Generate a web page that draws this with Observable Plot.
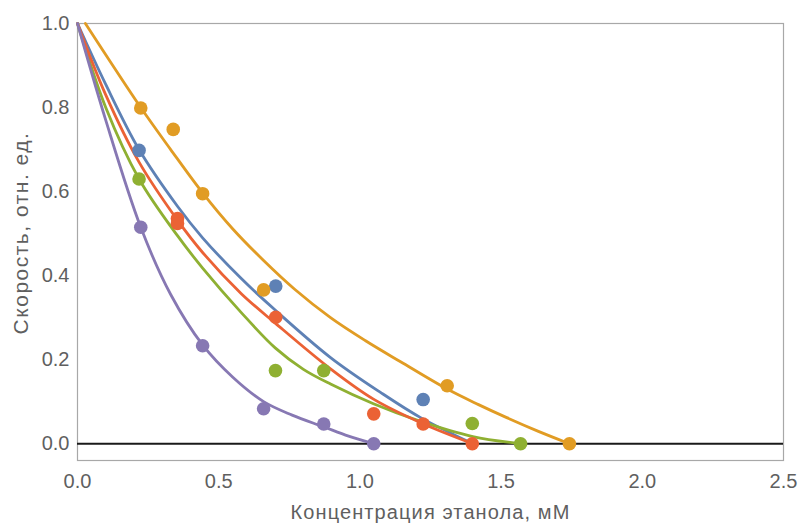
<!DOCTYPE html>
<html>
<head>
<meta charset="utf-8">
<script src="https://cdn.jsdelivr.net/npm/d3@7"></script>
<script src="https://cdn.jsdelivr.net/npm/@observablehq/plot@0.6"></script>
<style>
  html, body { margin: 0; padding: 0; background: #fff; }
</style>
</head>
<body>
<div id="chart"></div>
<script>
// ---- Data ----
const xLabel = "Концентрация этанола, мМ";
const yLabel = "Скорость, отн. ед.";
const xTicks = [0, 0.5, 1.0, 1.5, 2.0, 2.5];
const yTicks = [0, 0.2, 0.4, 0.6, 0.8, 1.0];

const seriesNames = ["s1", "s2", "s3", "s4", "s5"];
const seriesColors = ["#5E81B5", "#E19C24", "#8FB032", "#EB6235", "#8778B3"];

// measured points
const blueX = [0.218, 0.702, 1.224];
const blueY = [0.698, 0.375, 0.105];
const orangeX = [0.224, 0.339, 0.443, 0.659, 1.309, 1.742];
const orangeY = [0.799, 0.748, 0.595, 0.366, 0.138, 0.0];
const greenX = [0.218, 0.701, 0.872, 1.398, 1.569];
const greenY = [0.630, 0.174, 0.174, 0.048, 0.0];
const redX = [0.354, 0.354, 0.702, 1.049, 1.224, 1.398];
const redY = [0.536, 0.524, 0.301, 0.071, 0.047, 0.0];
const purpleX = [0.224, 0.443, 0.659, 0.872, 1.049];
const purpleY = [0.515, 0.233, 0.083, 0.047, 0.0];

// fitted curves
const blueCurveX = [0, 0.1, 0.218, 0.354, 0.443, 0.58, 0.70, 0.896, 1.073, 1.215, 1.40];
const blueCurveY = [1, 0.855, 0.70, 0.565, 0.49, 0.393, 0.318, 0.205, 0.122, 0.062, 0];
const orangeCurveX = [0.028, 0.224, 0.33, 0.443, 0.55, 0.659, 0.77, 0.896, 1.02, 1.144, 1.309, 1.42, 1.52, 1.63, 1.742];
const orangeCurveY = [1, 0.80, 0.70, 0.597, 0.511, 0.436, 0.367, 0.30, 0.245, 0.195, 0.13, 0.093, 0.062, 0.03, 0];
const greenCurveX = [0, 0.1, 0.218, 0.354, 0.443, 0.58, 0.70, 0.80, 0.896, 1.048, 1.215, 1.40, 1.569];
const greenCurveY = [1, 0.80, 0.63, 0.495, 0.418, 0.312, 0.228, 0.177, 0.142, 0.095, 0.053, 0.017, 0];
const redCurveX = [0, 0.1, 0.218, 0.354, 0.443, 0.58, 0.70, 0.896, 1.048, 1.215, 1.40];
const redCurveY = [1, 0.83, 0.67, 0.532, 0.455, 0.357, 0.287, 0.178, 0.106, 0.05, 0];
const purpleCurveX = [0, 0.1, 0.224, 0.33, 0.443, 0.55, 0.659, 0.76, 0.872, 0.96, 1.049];
const purpleCurveY = [1, 0.77, 0.515, 0.355, 0.235, 0.158, 0.1, 0.068, 0.04, 0.018, 0];

// ---- build tidy tables ----
const pointSets = [[blueX, blueY], [orangeX, orangeY], [greenX, greenY], [redX, redY], [purpleX, purpleY]];
const curveSets = [[blueCurveX, blueCurveY], [orangeCurveX, orangeCurveY], [greenCurveX, greenCurveY], [redCurveX, redCurveY], [purpleCurveX, purpleCurveY]];

const points = pointSets.flatMap(([xs, ys], i) => xs.map((x, j) => ({series: seriesNames[i], x, y: ys[j]})));
const curves = curveSets.flatMap(([xs, ys], i) => xs.map((x, j) => ({series: seriesNames[i], x, y: ys[j]})));

const chart = Plot.plot({
  width: 800,
  height: 523,
  marginLeft: 77,
  marginRight: 17,
  marginTop: 23,
  marginBottom: 63,
  style: {
    fontFamily: "'Liberation Sans', Arial, sans-serif",
    fontSize: "20px",
    color: "#5f5f5f",
    background: "white"
  },
  x: {domain: [0, 2.5], ticks: xTicks, tickFormat: d => d.toFixed(1), tickSize: 0, tickPadding: 13, label: null},
  y: {domain: [-0.04, 1.0], ticks: yTicks, tickFormat: d => d.toFixed(1), tickSize: 0, tickPadding: 8, label: null},
  color: {domain: seriesNames, range: seriesColors},
  marks: [
    Plot.frame({stroke: "#a8a8a8", strokeWidth: 1.2}),
    Plot.ruleY([0], {stroke: "#1a1a1a", strokeWidth: 2}),
    Plot.line(curves, {x: "x", y: "y", z: "series", stroke: "series", strokeWidth: 2.8, curve: "catmull-rom"}),
    Plot.dot(points, {x: "x", y: "y", fill: "series", r: 6.8}),
    Plot.text([xLabel], {frameAnchor: "bottom", dy: 58, text: d => d, fill: "#5f5f5f", fontSize: 20, className: "xlab"}),
    Plot.text([yLabel], {frameAnchor: "left", textAnchor: "middle", dx: -56, dy: -9, rotate: -90, text: d => d, fill: "#5f5f5f", fontSize: 21, className: "ylab"})
  ]
});
d3.select(chart).selectAll(".xlab text").style("letter-spacing", "1.1px");
d3.select(chart).selectAll(".ylab text").style("letter-spacing", "1.5px");
document.getElementById("chart").appendChild(chart);
</script>
</body>
</html>
